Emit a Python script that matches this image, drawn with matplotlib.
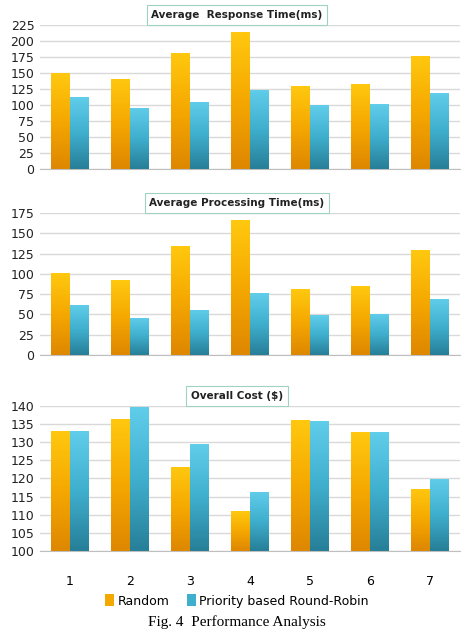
import numpy as np
import matplotlib
matplotlib.use("Agg")
import matplotlib.pyplot as plt
from matplotlib.colors import LinearSegmentedColormap
from matplotlib.patches import Patch

# Données
categories = ["1", "2", "3", "4", "5", "6", "7"]
resp_random = [150, 141, 182, 214, 129, 133, 177]
resp_prr    = [112, 96, 105, 124, 99.5, 101, 119]
proc_random = [101, 92, 134, 166, 81, 85, 129]
proc_prr    = [62, 46, 56, 76, 49, 51, 69]
cost_random = [133, 136.5, 123.2, 111, 136.1, 132.7, 117.2]
cost_prr    = [133, 139.6, 129.4, 116.4, 136, 132.7, 119.9]

titles = ["Average  Response Time(ms)", "Average Processing Time(ms)", "Overall Cost ($)"]
ylims = [(0, 225), (0, 175), (100, 140)]
ysteps = [25, 25, 5]
series = [(resp_random, resp_prr), (proc_random, proc_prr), (cost_random, cost_prr)]

orange_cm = LinearSegmentedColormap.from_list("o", ["#DE8700", "#F5A800", "#FFC80F"])
blue_cm = LinearSegmentedColormap.from_list("b", ["#277F98", "#3FAFCE", "#60CDEA"])

fig = plt.figure(figsize=(4.63, 6.33), dpi=100)
# positions des axes en pixels (haut, bas)
boxes = [(25, 169), (213, 355), (406, 551)]
L, R = 40, 460
W, H = 463, 633


def grad_bar(ax, x, top, base, w, cmap):
    bar = ax.bar(x, top - base, w, bottom=base, color="none", zorder=3)[0]
    grad = np.linspace(0, 1, 64).reshape(-1, 1)
    im = ax.imshow(grad, cmap=cmap, origin="lower", aspect="auto",
                   extent=[x - w / 2, x + w / 2, base, top], zorder=3)
    im.set_clip_path(bar)


x = np.arange(len(categories))
bw = 0.31
for i, (t, (ra, pr)) in enumerate(zip(titles, series)):
    top, bot = boxes[i]
    ax = fig.add_axes([L / W, 1 - bot / H, (R - L) / W, (bot - top) / H])
    lo, hi = ylims[i]
    for k in range(len(categories)):
        grad_bar(ax, x[k] - bw / 2, ra[k], lo, bw, orange_cm)
        grad_bar(ax, x[k] + bw / 2, pr[k], lo, bw, blue_cm)
    ax.set_xlim(-0.5, len(categories) - 0.5)
    ax.set_ylim(lo, hi)
    ax.set_yticks(np.arange(lo, hi + 1, ysteps[i]))
    ax.yaxis.grid(True, color="#D9D9D9", lw=1.0, zorder=0)
    ax.set_axisbelow(True)
    for s in ["top", "right", "left"]:
        ax.spines[s].set_visible(False)
    ax.spines["bottom"].set_color("#BFBFBF")
    ax.tick_params(axis="y", length=0, labelsize=9, pad=4, labelcolor="#222222")
    ax.set_xticks(x)
    if i == 2:
        ax.set_xticklabels(categories, fontsize=9)
        ax.tick_params(axis="x", length=0, pad=17)
    else:
        ax.set_xticklabels([])
        ax.tick_params(axis="x", length=0)
    ax.text(0.469, 1.0 + 10 / (bot - top), t, transform=ax.transAxes,
            ha="center", va="center", fontsize=7.5, fontweight="bold",
            color="#222222",
            bbox=dict(boxstyle="square,pad=0.45", fc="white", ec="#9ED3C4", lw=0.8))

handles = [Patch(facecolor="#F5A800", edgecolor="none"),
           Patch(facecolor="#3FAFCE", edgecolor="none")]
fig.legend(handles, ["Random", "Priority based Round-Robin"], loc="center",
           bbox_to_anchor=(237 / W, 1 - 601 / H), ncol=2, frameon=False,
           fontsize=9, handlelength=0.7, handleheight=1.1, handletextpad=0.3,
           columnspacing=1.4)
fig.text(237 / W, 1 - 622 / H, "Fig. 4  Performance Analysis", ha="center",
         va="center", fontsize=11, family="Liberation Serif")

fig.savefig("out.png", dpi=100)
